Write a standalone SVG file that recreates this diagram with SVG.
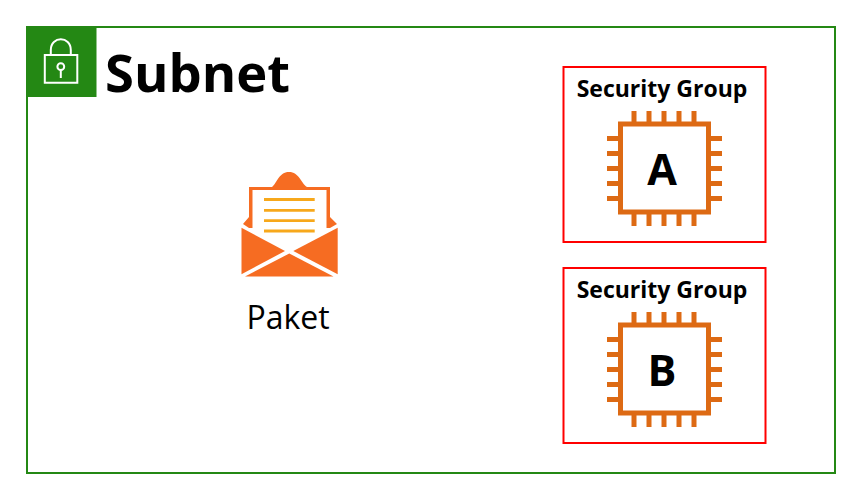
<svg xmlns="http://www.w3.org/2000/svg" width="865" height="500" viewBox="0 0 865 500">
  <defs>
    <g id="chip">
      <rect x="620.500" y="124" width="88" height="88" fill="#fff" stroke="#dd6a14" stroke-width="5"/>
      <path d="M634 111V122M649 111V122M664 111V122M679 111V122M694 111V122M634 214V226M649 214V226M664 214V226M679 214V226M694 214V226M607 138.500H618M607 153.500H618M607 168.500H618M607 183.500H618M607 198.500H618M711 138.500H722M711 153.500H722M711 168.500H722M711 183.500H722M711 198.500H722" fill="none" stroke="#dd6a14" stroke-width="5"/>
    </g>
  </defs>
  <style>
    text { font-family: "Open Sans", "Noto Sans", sans-serif; fill: #000; }
    .sg { fill: #fff; stroke: #ff0000; stroke-width: 2; }
    .sgt { font-size: 23px; font-weight: 700; text-anchor: middle; }
    .ltr { font-size: 43px; font-weight: 700; text-anchor: middle; }
    .lock { fill: none; stroke: #fff; stroke-width: 2; }
    .ln { stroke: #f7a81b; stroke-width: 2.800; }
  </style>
  <rect width="865" height="500" fill="#fff"/>
  <g id="subnet">
    <rect x="27" y="27" width="808" height="446" fill="#fff" stroke="#248814" stroke-width="2"/>
    <rect x="27" y="27" width="69.500" height="70" fill="#248814"/>
    <path class="lock" d="M44.800 55H77.300V82.700H44.800ZM50.800 55V50C50.800 35.800 70.800 35.800 70.800 50V55"/>
    <circle class="lock" cx="60.800" cy="66.700" r="3.400"/>
    <path class="lock" d="M60.800 70.100V78"/>
    <text x="105" y="92" font-size="52.500" font-weight="700">Subnet</text>
  </g>
  <g id="paket">
    <path d="M272 187C277 183 279 172 289 172C299 172 301 183 307 187Z" fill="#f66c22"/>
    <path d="M249 187H330V217L337 224L330 228H249L243 224L249 217Z" fill="#f66c22"/>
    <path d="M252.500 190H326.500V228L289.500 248L252.500 228Z" fill="#fff"/>
    <path class="ln" d="M264 199.500H314.700M264 210.300H314.700M264 220.700H314.700M264 231H314.700"/>
    <path d="M241.500 227.700L285 251L241.500 274.300Z" fill="#f66c22"/>
    <path d="M337.700 227.700L293.300 251L337.700 274.300Z" fill="#f66c22"/>
    <path d="M245 276.500L289.300 253.500L333.500 276.500Z" fill="#f66c22"/>
    <text x="288" y="329" font-size="32" text-anchor="middle">Paket</text>
  </g>
  <g id="sg-a">
    <rect class="sg" x="563.500" y="67" width="202" height="175"/>
    <text class="sgt" x="662" y="97">Security Group</text>
    <use href="#chip"/>
    <text class="ltr" x="662" y="185">A</text>
  </g>
  <g id="sg-b">
    <rect class="sg" x="563.500" y="268" width="202" height="175"/>
    <text class="sgt" x="662" y="298">Security Group</text>
    <use href="#chip" y="201"/>
    <text class="ltr" x="662" y="386">B</text>
  </g>
  <g id="connectors"/>
</svg>
